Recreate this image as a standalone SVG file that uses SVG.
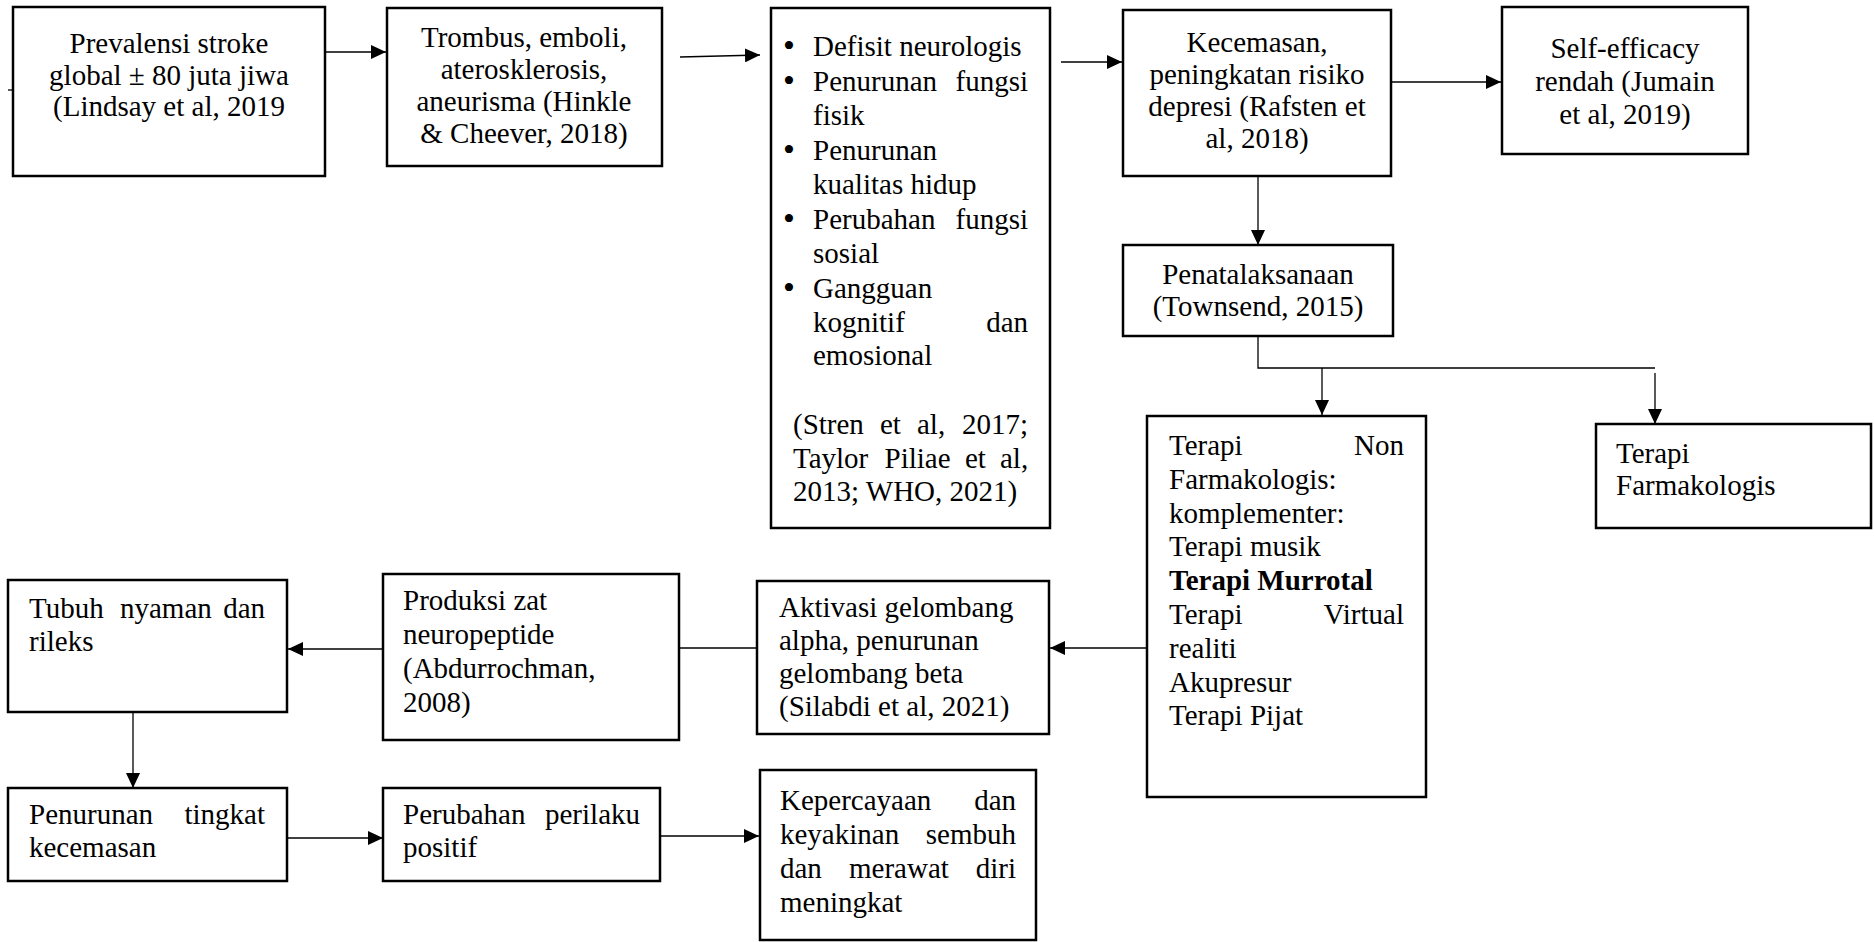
<svg xmlns="http://www.w3.org/2000/svg" width="1874" height="942" viewBox="0 0 1874 942">
<style>
.box{fill:#fff;stroke:#000;stroke-width:2.5}
.ln{stroke:#000;stroke-width:1.3;fill:none}
.t{font-family:"Liberation Serif","Times New Roman",serif;font-size:29px;fill:#000}
.c{text-anchor:middle}
.e{text-anchor:end}
.b{font-weight:bold}
.bu{font-family:"Liberation Serif","Times New Roman",serif;font-size:34px;fill:#000;text-anchor:middle}
</style>
<defs>
<marker id="ah" markerUnits="userSpaceOnUse" markerWidth="16" markerHeight="14" refX="15" refY="7" orient="auto">
<path d="M0,0 L15,7 L0,14 z" fill="#000"/>
</marker>
</defs>
<rect width="1874" height="942" fill="#fff"/>

<g id="connectors">
<path class="ln" d="M8,90 H13"/>
<path class="ln" d="M325,52 H386" marker-end="url(#ah)"/>
<path class="ln" d="M680,57 L760,55" marker-end="url(#ah)"/>
<path class="ln" d="M1061,62 H1122" marker-end="url(#ah)"/>
<path class="ln" d="M1391,82 H1501" marker-end="url(#ah)"/>
<path class="ln" d="M1258,176 V245" marker-end="url(#ah)"/>
<path class="ln" d="M1258,336 V368 H1655"/>
<path class="ln" d="M1322,368 V415" marker-end="url(#ah)"/>
<path class="ln" d="M1655,373 V424" marker-end="url(#ah)"/>
<path class="ln" d="M1147,648 H1050" marker-end="url(#ah)"/>
<path class="ln" d="M757,648 H662" marker-end="url(#ah)"/>
<path class="ln" d="M383,649 H288" marker-end="url(#ah)"/>
<path class="ln" d="M133,712 V788" marker-end="url(#ah)"/>
<path class="ln" d="M287,838 H383" marker-end="url(#ah)"/>
<path class="ln" d="M660,836 H759" marker-end="url(#ah)"/>
</g>

<g id="prevalensi">
<rect class="box" x="13" y="7" width="312" height="169"/>
<text class="t c" x="169" y="53">Prevalensi stroke</text>
<text class="t c" x="169" y="85">global ± 80 juta jiwa</text>
<text class="t c" x="169" y="116">(Lindsay et al, 2019</text>
</g>

<g id="trombus">
<rect class="box" x="387" y="8" width="275" height="158"/>
<text class="t c" x="524" y="47">Trombus, emboli,</text>
<text class="t c" x="524" y="79">aterosklerosis,</text>
<text class="t c" x="524" y="111">aneurisma (Hinkle</text>
<text class="t c" x="524" y="143">&amp; Cheever, 2018)</text>
</g>

<g id="defisit">
<rect class="box" x="771" y="8" width="279" height="520"/>
<text class="bu" x="789" y="57">•</text>
<text class="t" x="813" y="56">Defisit neurologis</text>
<text class="bu" x="789" y="92">•</text>
<text class="t" x="813" y="91">Penurunan</text>
<text class="t e" x="1028" y="91">fungsi</text>
<text class="t" x="813" y="124.5">fisik</text>
<text class="bu" x="789" y="161">•</text>
<text class="t" x="813" y="160">Penurunan</text>
<text class="t" x="813" y="193.5">kualitas hidup</text>
<text class="bu" x="789" y="230">•</text>
<text class="t" x="813" y="229">Perubahan</text>
<text class="t e" x="1028" y="229">fungsi</text>
<text class="t" x="813" y="262.5">sosial</text>
<text class="bu" x="789" y="299">•</text>
<text class="t" x="813" y="298">Gangguan</text>
<text class="t" x="813" y="331.5">kognitif</text>
<text class="t e" x="1028" y="331.5">dan</text>
<text class="t" x="813" y="365">emosional</text>
<text class="t" y="434"><tspan x="793">(Stren</tspan><tspan x="880">et</tspan><tspan x="917">al,</tspan><tspan x="962">2017;</tspan></text>
<text class="t" y="467.5"><tspan x="793">Taylor</tspan><tspan x="884.5">Piliae</tspan><tspan x="965">et</tspan><tspan x="1000">al,</tspan></text>
<text class="t" x="793" y="501">2013; WHO, 2021)</text>
</g>

<g id="kecemasan">
<rect class="box" x="1123" y="10" width="268" height="166"/>
<text class="t c" x="1257" y="52">Kecemasan,</text>
<text class="t c" x="1257" y="84">peningkatan risiko</text>
<text class="t c" x="1257" y="116">depresi (Rafsten et</text>
<text class="t c" x="1257" y="148">al, 2018)</text>
</g>

<g id="selfefficacy">
<rect class="box" x="1502" y="7" width="246" height="147"/>
<text class="t c" x="1625" y="58">Self-efficacy</text>
<text class="t c" x="1625" y="91">rendah (Jumain</text>
<text class="t c" x="1625" y="124">et al, 2019)</text>
</g>

<g id="penatalaksanaan">
<rect class="box" x="1123" y="245" width="270" height="91"/>
<text class="t c" x="1258" y="284">Penatalaksanaan</text>
<text class="t c" x="1258" y="316">(Townsend, 2015)</text>
</g>

<g id="nonfarmakologis">
<rect class="box" x="1147" y="416" width="279" height="381"/>
<text class="t" x="1169" y="455">Terapi</text>
<text class="t e" x="1404" y="455">Non</text>
<text class="t" x="1169" y="488.8">Farmakologis:</text>
<text class="t" x="1169" y="522.6">komplementer:</text>
<text class="t" x="1169" y="556.4">Terapi musik</text>
<text class="t b" x="1169" y="590.2">Terapi Murrotal</text>
<text class="t" x="1169" y="624">Terapi</text>
<text class="t e" x="1404" y="624">Virtual</text>
<text class="t" x="1169" y="657.8">realiti</text>
<text class="t" x="1169" y="691.6">Akupresur</text>
<text class="t" x="1169" y="725.4">Terapi Pijat</text>
</g>

<g id="farmakologis">
<rect class="box" x="1596" y="424" width="275" height="104"/>
<text class="t" x="1616" y="463">Terapi</text>
<text class="t" x="1616" y="495">Farmakologis</text>
</g>

<g id="aktivasi">
<rect class="box" x="757" y="581" width="292" height="153"/>
<text class="t" x="779" y="617">Aktivasi gelombang</text>
<text class="t" x="779" y="650">alpha, penurunan</text>
<text class="t" x="779" y="683">gelombang beta</text>
<text class="t" x="779" y="716">(Silabdi et al, 2021)</text>
</g>

<g id="produksi">
<rect class="box" x="383" y="574" width="296" height="166"/>
<text class="t" x="403" y="610">Produksi zat</text>
<text class="t" x="403" y="644">neuropeptide</text>
<text class="t" x="403" y="678">(Abdurrochman,</text>
<text class="t" x="403" y="712">2008)</text>
</g>

<g id="tubuh">
<rect class="box" x="8" y="580" width="279" height="132"/>
<text class="t" y="618"><tspan x="29">Tubuh</tspan><tspan x="120">nyaman</tspan></text>
<text class="t e" x="265" y="618">dan</text>
<text class="t" x="29" y="651">rileks</text>
</g>

<g id="penurunan">
<rect class="box" x="8" y="788" width="279" height="93"/>
<text class="t" x="29" y="824">Penurunan</text>
<text class="t e" x="265" y="824">tingkat</text>
<text class="t" x="29" y="857">kecemasan</text>
</g>

<g id="perubahan">
<rect class="box" x="383" y="788" width="277" height="93"/>
<text class="t" x="403" y="824">Perubahan</text>
<text class="t e" x="640" y="824">perilaku</text>
<text class="t" x="403" y="857">positif</text>
</g>

<g id="kepercayaan">
<rect class="box" x="760" y="770" width="276" height="170"/>
<text class="t" x="780" y="810">Kepercayaan</text>
<text class="t e" x="1016" y="810">dan</text>
<text class="t" x="780" y="844">keyakinan</text>
<text class="t e" x="1016" y="844">sembuh</text>
<text class="t" y="878"><tspan x="780">dan</tspan><tspan x="849">merawat</tspan></text>
<text class="t e" x="1016" y="878">diri</text>
<text class="t" x="780" y="912">meningkat</text>
</g>
</svg>
